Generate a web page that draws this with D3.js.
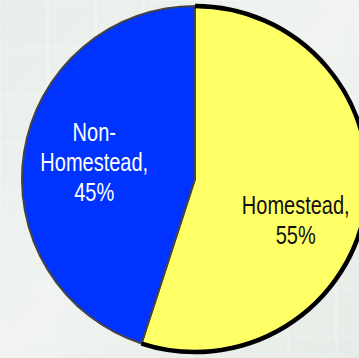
<!DOCTYPE html>
<html>
<head>
<meta charset="utf-8">
<script src="https://cdn.jsdelivr.net/npm/d3@7"></script>
<style>
  html, body { margin: 0; padding: 0; overflow: hidden; }
  body { width: 359px; height: 358px; background: #edf1ed; }
</style>
</head>
<body>
<svg id="chart"></svg>
<script>
// slices, clockwise from 12 o'clock
const categories = ["Homestead", "Non-Homestead"];
const shares = [55, 45];
const labelLines = [["Homestead,", "55%"], ["Non-", "Homestead,", "45%"]];
const colors = ["#ffff66", "#0033ff"];
const textColors = ["#111111", "#ffffff"];

const width = 359, height = 358;
const cx = 195, cy = 179, radius = 173;

const svg = d3.select("#chart")
    .attr("width", width)
    .attr("height", height);

// faint textured backdrop
const defs = svg.append("defs");
const grad = defs.append("linearGradient")
    .attr("id", "bg")
    .attr("x1", 0).attr("y1", 0).attr("x2", 1).attr("y2", 1);
grad.append("stop").attr("offset", "0%").attr("stop-color", "#e9eeea");
grad.append("stop").attr("offset", "50%").attr("stop-color", "#f0f3f0");
grad.append("stop").attr("offset", "100%").attr("stop-color", "#e6ece7");
svg.append("rect")
    .attr("width", width)
    .attr("height", height)
    .attr("fill", "url(#bg)");

const grid = svg.append("g")
    .attr("stroke", "#ffffff")
    .attr("stroke-opacity", 0.5)
    .attr("stroke-width", 1);
d3.range(0, width, 48).forEach(x => {
    grid.append("line").attr("x1", x).attr("x2", x).attr("y1", 0).attr("y2", height);
});
d3.range(0, height, 48).forEach(y => {
    grid.append("line").attr("x1", 0).attr("x2", width).attr("y1", y).attr("y2", y);
});

const pie = d3.pie()
    .sort(null)
    .value(d => d);

const arcs = pie(shares);

const arc = d3.arc()
    .innerRadius(0)
    .outerRadius(radius);

const g = svg.append("g")
    .attr("transform", `translate(${cx}, ${cy})`);

g.selectAll("path.slice")
    .data(arcs)
    .join("path")
    .attr("class", "slice")
    .attr("d", arc)
    .attr("fill", (d, i) => colors[i])
    .attr("stroke", "#444444")
    .attr("stroke-width", 2)
    .attr("stroke-linejoin", "round");

// thick black rim on the selected (homestead) slice
const rim = d3.arc()
    .innerRadius(radius)
    .outerRadius(radius);
g.append("path")
    .attr("d", rim(arcs[0]))
    .attr("fill", "none")
    .attr("stroke", "#000000")
    .attr("stroke-width", 4.5);

const labelArc = d3.arc()
    .innerRadius(100)
    .outerRadius(104);

// no narrow font installed, so squeeze the regular one horizontally
const lineHeight = 30;
g.selectAll("g.label")
    .data(arcs)
    .join("g")
    .attr("class", "label")
    .attr("transform", (d, i) => {
        const [x, y] = labelArc.centroid(d);
        const shift = i === 0 ? 26 : 0;
        return `translate(${x}, ${y + shift}) scale(0.8, 1)`;
    })
    .append("text")
    .attr("text-anchor", "middle")
    .attr("fill", (d, i) => textColors[i])
    .style("font-family", "'Liberation Sans', Arial, sans-serif")
    .style("font-size", "25px")
    .each(function (d, i) {
        const lines = labelLines[i];
        const top = -(lines.length - 1) * lineHeight / 2 + 8;
        d3.select(this).selectAll("tspan")
            .data(lines)
            .join("tspan")
            .attr("x", 0)
            .attr("y", (t, k) => top + k * lineHeight)
            .text(t => t);
    });
</script>
</body>
</html>
